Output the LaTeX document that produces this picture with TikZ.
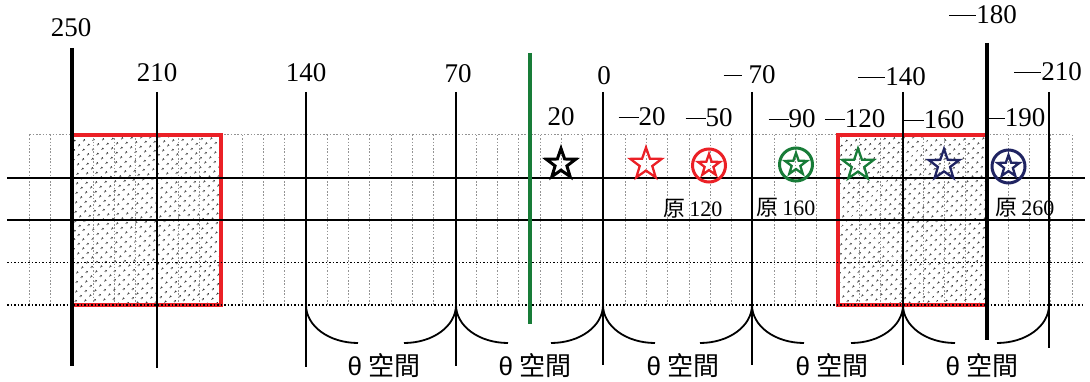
\documentclass[tikz,border=0pt]{standalone}
\usepackage{fontspec}
\setmainfont{Liberation Serif}
\setsansfont{Liberation Sans}
\newfontfamily\cjk{Noto Sans CJK TC}
\usetikzlibrary{shapes.geometric,patterns.meta}
\definecolor{myred}{RGB}{235,32,38}
\definecolor{mygreen}{RGB}{24,124,56}
\definecolor{mynavy}{RGB}{32,36,98}
\newcommand\dshA{\rule[8pt]{27pt}{1.2pt}}
\newcommand\dshB{\rule[8pt]{20pt}{1.2pt}}
\newcommand\dshC{\rule[8pt]{18pt}{1.2pt}}
\begin{document}
\begin{tikzpicture}[x=1pt,y=-1pt,
  gridline/.style={gray!85, line width=1pt, dash pattern=on 1.5pt off 1.8pt},
  blackdots/.style={black, line width=1.3pt, dash pattern=on 1.5pt off 2pt},
  hline/.style={black, line width=1.7pt},
  vline/.style={black, line width=1.5pt},
  thickline/.style={black, line width=4pt},
  greenline/.style={mygreen, line width=3.8pt},
  redbox/.style={myred, line width=3.2pt},
  dotfill/.style={pattern={Dots[distance=6.5pt,angle=45,radius=1pt]}, pattern color=black},
  brace/.style={black, line width=1.8pt},
  num/.style={font=\fontsize{27}{30}\selectfont, anchor=base, inner sep=0pt},
  yuan/.style={font=\fontsize{22}{24}\selectfont, anchor=base, inner sep=0pt},
  thetalbl/.style={font=\fontsize{26}{28}\selectfont, anchor=base, inner sep=0pt},
  starshape/.style={star, star points=5, star point ratio=2.5, inner sep=0pt, fill=none},
  ringshape/.style={circle, inner sep=0pt, minimum size=33pt, line width=3pt},
]
\useasboundingbox (0,0) rectangle (1090,382);

% dotted fill of the two red boxes
\fill[dotfill] (72,135) rectangle (221,305);
\fill[dotfill] (838,135) rectangle (987,305);

% grey dotted grid
\foreach \i in {0,...,49} {
  \draw[gridline] (29.4+\i*21.28,135) -- (29.4+\i*21.28,305);
}
\coordinate (gtl) at (29.4,135);
\coordinate (gtr) at (1072,135);
\draw[gridline] (gtl) -- (gtr);

% red boxes
\draw[redbox] (72,135) rectangle (221,305);
\draw[redbox] (838,135) rectangle (987,305);

% horizontal lines
\coordinate (h1l) at (7,178);   \coordinate (h1r) at (1085,178);
\coordinate (h2l) at (7,220);   \coordinate (h2r) at (1085,220);
\coordinate (h3l) at (7,262.5); \coordinate (h3r) at (1085,262.5);
\coordinate (h4l) at (7,305);   \coordinate (h4r) at (1085,305);
\draw[hline] (h1l) -- (h1r);
\draw[hline] (h2l) -- (h2r);
\draw[blackdots] (h3l) -- (h3r);
\draw[blackdots] (h4l) -- (h4r);

% thin vertical lines
\foreach \n/\x/\t/\b in {a/157/92/368, b/306/92/367, c/456/92/366, d/603/92/365, e/752/92/365, f/903/92/365, g/1049/92/348} {
  \coordinate (v\n t) at (\x,\t);
  \coordinate (v\n b) at (\x,\b);
  \draw[vline] (v\n t) -- (v\n b);
}
% thick lines
\coordinate (k1t) at (72,48);   \coordinate (k1b) at (72,366);
\coordinate (k2t) at (987,43);  \coordinate (k2b) at (987,340);
\draw[thickline] (k1t) -- (k1b);
\draw[thickline] (k2t) -- (k2b);
% green line
\coordinate (gt) at (530,53); \coordinate (gb) at (530,324);
\draw[greenline] (gt) -- (gb);

% braces
\foreach \x in {306,456,603,752,903} {
  \coordinate (br\x) at (\x,305);
  \draw[brace] (br\x) .. controls (\x,326) and (\x+23,343) .. (\x+52,343);
}
\foreach \x in {456,603,752,903,1049} {
  \coordinate (bl\x) at (\x,305);
  \draw[brace] (bl\x) .. controls (\x,326) and (\x-23,343) .. (\x-52,343);
}

% stars
\node[starshape, draw=black, line width=3pt, minimum size=31pt] (s20) at (561,164) {};
\node[starshape, draw=myred, line width=2.3pt, minimum size=33pt] (s-20) at (646,164) {};
\node[ringshape, draw=myred] (c-50) at (709,165.5) {};
\node[starshape, draw=myred, line width=2.3pt, minimum size=23pt] (s-50) at (c-50) {};
\node[ringshape, draw=mygreen] (c-90) at (796,164.5) {};
\node[starshape, draw=mygreen, line width=2.3pt, minimum size=23pt] (s-90) at (c-90) {};
\node[starshape, draw=mygreen, line width=2.3pt, minimum size=33pt] (s-120) at (858,165) {};
\node[starshape, draw=mynavy, line width=2.3pt, minimum size=32pt] (s-160) at (944,165) {};
\node[ringshape, draw=mynavy] (c-190) at (1008.5,166.5) {};
\node[starshape, draw=mynavy, line width=2.3pt, minimum size=23pt] (s-190) at (c-190) {};

% number labels
\node[num] (l250) at (71,37) {250};
\node[num] (l210) at (157,82) {210};
\node[num] (l140) at (306,82) {140};
\node[num] (l70) at (458,83) {70};
\node[num] (l0) at (604,85) {0};
\node[num] (l20) at (561,126) {20};
\node[num] (lm20) at (642,126) {\dshB20};
\node[num] (lm50) at (709,127) {\dshB50};
\node[num] (lm70) at (749.5,84) {\dshC\hspace{7pt}70};
\node[num] (lm90) at (792,128) {\dshB90};
\node[num] (lm120) at (855,128) {\dshB120};
\node[num] (lm140) at (892,86) {\dshA140};
\node[num] (lm160) at (934,129) {\dshB160};
\node[num] (lm180) at (983,24) {\dshA180};
\node[num] (lm190) at (1016,127) {\dshC190};
\node[num] (lm210) at (1048,81) {\dshA210};

% original-value labels
\node[yuan] (y120) at (693,217) {{\cjk 原}\,120};
\node[yuan] (y160) at (786,216) {{\cjk 原}\,160};
\node[yuan] (y260) at (1025,216) {{\cjk 原}\,260};

% theta space labels
\foreach \x [count=\k] in {384,535,683,832,982} {
  \node[thetalbl] (t\k) at (\x,375) {{\sffamily θ} {\cjk 空間}};
}
\end{tikzpicture}
\end{document}
